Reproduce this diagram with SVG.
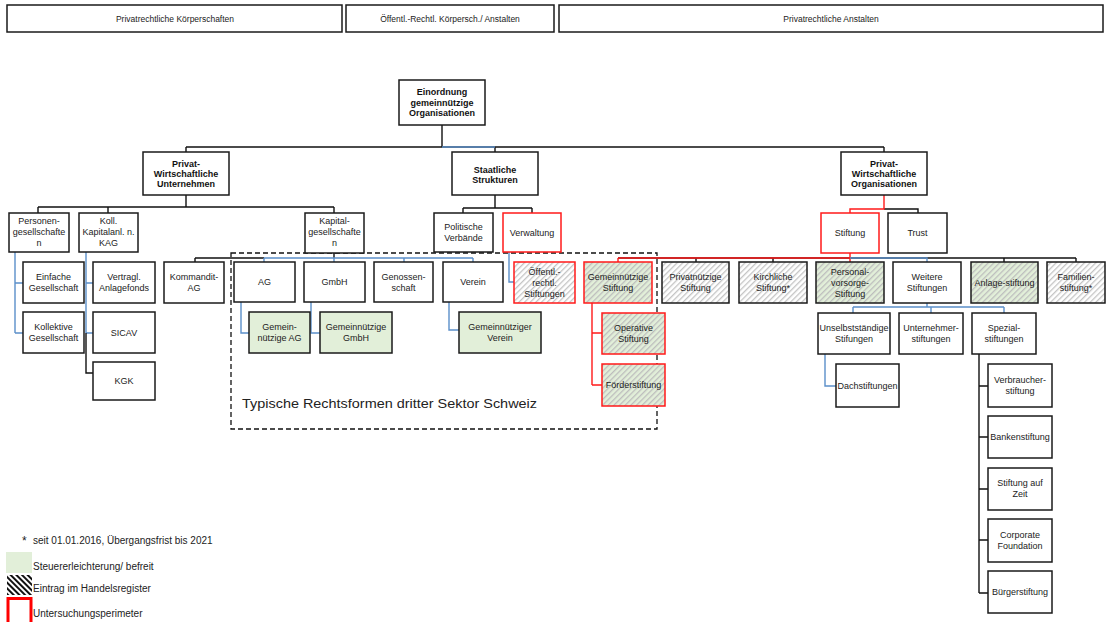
<svg xmlns="http://www.w3.org/2000/svg" width="1109" height="622" viewBox="0 0 1109 622">
<defs>
<pattern id="hw" patternUnits="userSpaceOnUse" width="4" height="4" patternTransform="rotate(45)"><rect width="4" height="4" fill="#ffffff"/><rect width="1.3" height="4" fill="#c4c4c4"/></pattern>
<pattern id="hg" patternUnits="userSpaceOnUse" width="4" height="4" patternTransform="rotate(45)"><rect width="4" height="4" fill="#e2efd9"/><rect width="1.3" height="4" fill="#bdbdbd"/></pattern>
<pattern id="hb" patternUnits="userSpaceOnUse" width="4" height="4" patternTransform="rotate(-45)"><rect width="4" height="4" fill="#ffffff"/><rect width="2" height="4" fill="#111"/></pattern>
</defs>
<style>
text{font-family:"Liberation Sans",Arial,sans-serif;font-size:9px;fill:#222;text-anchor:middle}
.b{font-weight:bold;fill:#111}
.h{font-size:8.5px}
.lg{font-size:10px;text-anchor:start}
.big{font-size:13.5px;text-anchor:start}
.n{fill:#fff;stroke:#1a1a1a;stroke-width:1.5}
.r{stroke:#ff1a1a}
.g{fill:#e2efd9}
.hw{fill:url(#hw)}
.hg{fill:url(#hg)}
.k{fill:none;stroke:#111;stroke-width:1.4}
.bl{fill:none;stroke:#5b8fc9;stroke-width:1.4}
.rd{fill:none;stroke:#ff1a1a;stroke-width:1.4}
</style>
<rect width="1109" height="622" fill="#fff"/>

<g id="headers">
<rect class="n" x="7" y="5" width="335" height="27"/><text class="h" x="175" y="21.5">Privatrechtliche Körperschaften</text>
<rect class="n" x="346" y="5" width="208" height="27"/><text class="h" x="450" y="21.5">Öffentl.-Rechtl. Körpersch./ Anstalten</text>
<rect class="n" x="559" y="5" width="544" height="27"/><text class="h" x="831" y="21.5">Privatrechtliche Anstalten</text>
</g>

<g id="connectors">
<path class="k" d="M442 125V147M186 147H884M186 147V152M495 147V152M884 147V152"/>
<path class="bl" d="M442 147H495"/>
<path class="k" d="M186 195V207M38 207H334M38 207V213M108 207V213M334 207V213"/>
<path class="bl" d="M15 252V333M15 283H23M15 333H23"/>
<path class="bl" d="M86 252V333M86 283H93M86 333H93"/>
<path class="k" d="M86 333V373H93"/>
<path class="k" d="M334 253V258M195 258H264M195 258V262"/>
<path class="bl" d="M264 258H473M264 258V262M334 258V262M404 258V262M473 258V262"/>
<path class="bl" d="M241 302V333H249M311 302V333H320M449 302V330H459"/>
<path class="k" d="M495 195V208M463 208H532M463 208V213M532 208V213"/>
<path class="bl" d="M509 252V282H514"/>
<path class="rd" d="M592 303V385M592 333H602M592 385H602"/>
<path class="k" d="M884 209H918V213"/>
<path class="rd" d="M884 195V209H850V213"/>
<path class="k" d="M618 258H1076M696 258V262M773 258V262M1004 258V262M1076 258V262"/>
<path class="rd" d="M850 253V262M618 258H850M618 258V262"/>
<path class="bl" d="M850 258H927V262"/>
<path class="bl" d="M927 303V307M853 307H1004M853 307V313M931 307V313M1004 307V313"/>
<path class="bl" d="M825 354V386H836"/>
<path class="k" d="M979 354V593M979 386H988M979 437H988M979 489H988M979 540H988M979 593H988"/>
</g>

<g id="perimeter"><rect x="231" y="253" width="426" height="176" fill="none" stroke="#111" stroke-width="1.3" stroke-dasharray="5,3"/>
<text class="big" x="242" y="408" textLength="295" lengthAdjust="spacingAndGlyphs">Typische Rechtsformen dritter Sektor Schweiz</text></g>

<g id="root"><rect class="n" x="399" y="80" width="86" height="45"/><text class="b" x="442" y="95">Einordnung</text><text class="b" x="442" y="105.5">gemeinnützige</text><text class="b" x="442" y="116">Organisationen</text></g>
<g id="pwu"><rect class="n" x="143" y="152" width="86" height="43"/><text class="b" x="186" y="167">Privat-</text><text class="b" x="186" y="177">Wirtschaftliche</text><text class="b" x="186" y="187">Unternehmen</text></g>
<g id="staat"><rect class="n" x="452" y="152" width="86" height="43"/><text class="b" x="495" y="172.5">Staatliche</text><text class="b" x="495" y="182.5">Strukturen</text></g>
<g id="pwo"><rect class="n" x="841" y="152" width="86" height="43"/><text class="b" x="884" y="167">Privat-</text><text class="b" x="884" y="177">Wirtschaftliche</text><text class="b" x="884" y="187">Organisationen</text></g>

<g id="personen"><rect class="n" x="9" y="213" width="60" height="39"/><text x="39" y="224">Personen-</text><text x="39" y="235">gesellschafte</text><text x="39" y="246">n</text></g>
<g id="koll"><rect class="n" x="79" y="213" width="59" height="39"/><text x="108.5" y="224">Koll.</text><text x="108.5" y="235">Kapitalanl. n.</text><text x="108.5" y="246">KAG</text></g>
<g id="kapital"><rect class="n" x="305" y="213" width="59" height="40"/><text x="334.5" y="224">Kapital-</text><text x="334.5" y="235">gesellschafte</text><text x="334.5" y="246">n</text></g>
<g id="politische"><rect class="n" x="434" y="213" width="59" height="39"/><text x="463.5" y="230">Politische</text><text x="463.5" y="241">Verbände</text></g>
<g id="verwaltung"><rect class="n r" x="503" y="213" width="58" height="39"/><text x="532" y="236">Verwaltung</text></g>
<g id="stiftung"><rect class="n r" x="821" y="213" width="58" height="40"/><text x="850" y="236">Stiftung</text></g>
<g id="trust"><rect class="n" x="888" y="213" width="59" height="40"/><text x="917.5" y="236">Trust</text></g>

<g id="einfache"><rect class="n" x="23" y="262" width="61" height="41"/><text x="53.5" y="280">Einfache</text><text x="53.5" y="291">Gesellschaft</text></g>
<g id="kollektive"><rect class="n" x="23" y="312" width="61" height="41"/><text x="53.5" y="330">Kollektive</text><text x="53.5" y="341">Gesellschaft</text></g>
<g id="vertragl"><rect class="n" x="93" y="262" width="62" height="41"/><text x="124" y="280">Vertragl.</text><text x="124" y="291">Anlagefonds</text></g>
<g id="sicav"><rect class="n" x="93" y="312" width="62" height="41"/><text x="124" y="335.5">SICAV</text></g>
<g id="kgk"><rect class="n" x="93" y="362" width="62" height="38"/><text x="124" y="384">KGK</text></g>
<g id="kommandit"><rect class="n" x="164" y="262" width="60" height="41"/><text x="194" y="280">Kommandit-</text><text x="194" y="291">AG</text></g>
<g id="ag"><rect class="n" x="234" y="262" width="61" height="40"/><text x="264.5" y="285">AG</text></g>
<g id="gmbh"><rect class="n" x="304" y="262" width="61" height="40"/><text x="334.5" y="285">GmbH</text></g>
<g id="genossenschaft"><rect class="n" x="374" y="262" width="59" height="40"/><text x="403.5" y="280">Genossen-</text><text x="403.5" y="291">schaft</text></g>
<g id="verein"><rect class="n" x="443" y="262" width="60" height="40"/><text x="473" y="285">Verein</text></g>
<g id="oeffentl"><rect class="n r hw" x="514" y="262" width="61" height="41"/><text x="544.5" y="275">Öffentl.-</text><text x="544.5" y="286">rechtl.</text><text x="544.5" y="297">Stiftungen</text></g>
<g id="gemstiftung"><rect class="n r hg" x="584" y="262" width="68" height="41"/><text x="618" y="280">Gemeinnützige</text><text x="618" y="291">Stiftung</text></g>
<g id="privatnuetzig"><rect class="n hw" x="662" y="262" width="67" height="41"/><text x="695.5" y="280">Privatnützige</text><text x="695.5" y="291">Stiftung</text></g>
<g id="kirchlich"><rect class="n hw" x="739" y="262" width="68" height="41"/><text x="773" y="280">Kirchliche</text><text x="773" y="291">Stiftung*</text></g>
<g id="personal"><rect class="n hg" x="816" y="262" width="68" height="41"/><text x="850" y="275">Personal-</text><text x="850" y="286">vorsorge-</text><text x="850" y="297">Stiftung</text></g>
<g id="weitere"><rect class="n" x="893" y="262" width="68" height="41"/><text x="927" y="280">Weitere</text><text x="927" y="291">Stiftungen</text></g>
<g id="anlage"><rect class="n hg" x="971" y="262" width="67" height="41"/><text x="1004.5" y="285.5">Anlage-stiftung</text></g>
<g id="familien"><rect class="n hw" x="1047" y="262" width="58" height="41"/><text x="1076" y="280">Familien-</text><text x="1076" y="291">stiftung*</text></g>

<g id="gemag"><rect class="n g" x="249" y="312" width="61" height="41"/><text x="279.5" y="330">Gemein-</text><text x="279.5" y="341">nützige AG</text></g>
<g id="gemgmbh"><rect class="n g" x="320" y="312" width="72" height="41"/><text x="356" y="330">Gemeinnützige</text><text x="356" y="341">GmbH</text></g>
<g id="gemverein"><rect class="n g" x="459" y="312" width="82" height="41"/><text x="500" y="330">Gemeinnütziger</text><text x="500" y="341">Verein</text></g>
<g id="operativ"><rect class="n r hg" x="602" y="313" width="63" height="41"/><text x="633.5" y="331">Operative</text><text x="633.5" y="342">Stiftung</text></g>
<g id="foerder"><rect class="n r hg" x="602" y="364" width="63" height="42"/><text x="633.5" y="388">Förderstiftung</text></g>
<g id="unselbst"><rect class="n" x="818" y="313" width="72" height="41"/><text x="854" y="331">Unselbstständige</text><text x="854" y="342">Stifungen</text></g>
<g id="unternehmer"><rect class="n" x="899" y="313" width="64" height="41"/><text x="931" y="331">Unternehmer-</text><text x="931" y="342">stiftungen</text></g>
<g id="spezial"><rect class="n" x="972" y="313" width="64" height="41"/><text x="1004" y="331">Spezial-</text><text x="1004" y="342">stiftungen</text></g>
<g id="dach"><rect class="n" x="836" y="364" width="63" height="43"/><text x="867.5" y="388.5">Dachstiftungen</text></g>
<g id="verbraucher"><rect class="n" x="988" y="364" width="64" height="43"/><text x="1020" y="383">Verbraucher-</text><text x="1020" y="394">stiftung</text></g>
<g id="banken"><rect class="n" x="988" y="416" width="64" height="42"/><text x="1020" y="440">Bankenstiftung</text></g>
<g id="zeit"><rect class="n" x="988" y="468" width="64" height="42"/><text x="1020" y="486">Stiftung auf</text><text x="1020" y="497">Zeit</text></g>
<g id="corporate"><rect class="n" x="988" y="519" width="64" height="43"/><text x="1020" y="538">Corporate</text><text x="1020" y="549">Foundation</text></g>
<g id="buerger"><rect class="n" x="988" y="571" width="64" height="42"/><text x="1020" y="595">Bürgerstiftung</text></g>

<g id="legend">
<text class="lg" x="22" y="545" style="font-size:12px">*</text><text class="lg" x="33" y="544">seit 01.01.2016, Übergangsfrist bis 2021</text>
<rect x="6" y="552" width="26" height="21" fill="#e2efd9"/><text class="lg" x="33" y="570">Steuererleichterung/ befreit</text>
<rect x="7" y="575" width="25" height="20" fill="url(#hb)"/><text class="lg" x="33" y="592">Eintrag im Handelsregister</text>
<rect x="8" y="598.5" width="23" height="26" fill="none" stroke="#ff0000" stroke-width="3"/><text class="lg" x="33" y="617">Untersuchungsperimeter</text>
</g>
</svg>
